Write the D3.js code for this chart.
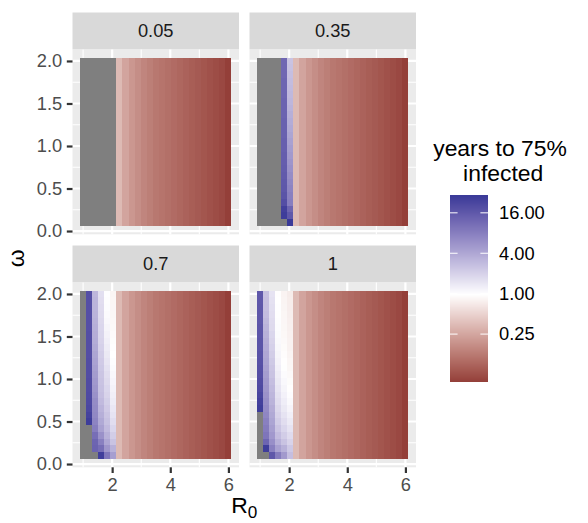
<!DOCTYPE html>
<html>
<head>
<meta charset="utf-8">
<script src="https://cdn.jsdelivr.net/npm/d3@7"></script>
<style>
  body { margin: 0; background: #ffffff; }
  svg { display: block; font-family: "Liberation Sans", Arial, Helvetica, sans-serif; }
</style>
</head>
<body>
<svg id="chart" width="588" height="523"></svg>
<script>
// ---- data ---------------------------------------------------------------
const _ = null; // grey cells: threshold never reached

// basic reproduction number (x) and omega (y) grid
const r0Values = [1, 1.208, 1.417, 1.625, 1.833, 2.042, 2.25, 2.458, 2.667, 2.875,
  3.083, 3.292, 3.5, 3.708, 3.917, 4.125, 4.333, 4.542, 4.75, 4.958,
  5.167, 5.375, 5.583, 5.792, 6];
const omegaValues = [0.1, 0.179, 0.258, 0.338, 0.417, 0.496, 0.575, 0.654, 0.733, 0.812,
  0.892, 0.971, 1.05, 1.129, 1.208, 1.288, 1.367, 1.446, 1.525, 1.604,
  1.683, 1.762, 1.842, 1.921, 2];

const panelLabels = ["0.05", "0.35", "0.7", "1"];

// years to 75% infected for R0 >= 2.25 (identical for every omega and panel)
const fastYears = [0.35, 0.25, 0.205, 0.177, 0.154, 0.139, 0.125, 0.117, 0.109, 0.102,
  0.095, 0.088, 0.082, 0.077, 0.072, 0.067, 0.0625, 0.058, 0.05];

// years to 75% infected for the six lowest R0 values; each inner array runs
// from omega = 0.1 (first) to omega = 2 (last)
const early005 = [
  [_,_,_,_,_,_,_,_,_,_,_,_,_,_,_,_,_,_,_,_,_,_,_,_,_],
  [_,_,_,_,_,_,_,_,_,_,_,_,_,_,_,_,_,_,_,_,_,_,_,_,_],
  [_,_,_,_,_,_,_,_,_,_,_,_,_,_,_,_,_,_,_,_,_,_,_,_,_],
  [_,_,_,_,_,_,_,_,_,_,_,_,_,_,_,_,_,_,_,_,_,_,_,_,_],
  [_,_,_,_,_,_,_,_,_,_,_,_,_,_,_,_,_,_,_,_,_,_,_,_,_],
  [_,_,_,_,_,_,_,_,_,_,_,_,_,_,_,_,_,_,_,_,_,_,_,_,_]
];
const early035 = [
  [_,_,_,_,_,_,_,_,_,_,_,_,_,_,_,_,_,_,_,_,_,_,_,_,_],
  [_,_,_,_,_,_,_,_,_,_,_,_,_,_,_,_,_,_,_,_,_,_,_,_,_],
  [_,_,_,_,_,_,_,_,_,_,_,_,_,_,_,_,_,_,_,_,_,_,_,_,_],
  [_,_,_,_,_,_,_,_,_,_,_,_,_,_,_,_,_,_,_,_,_,_,_,_,_],
  [_, 28, 26, 20, 18, 17, 16.5, 16, 15.5, 15, 15, 14.5, 14.5, 14, 14, 14, 13.5, 13.5, 13.5, 13, 13, 13, 12.5, 12.5, 12.5],
  [29.5, 16.5, 13, 8.4, 8, 7.5, 7, 6.5, 6, 5.6, 5.2, 4.9, 4.6, 4.3, 4.0, 3.8, 3.6, 3.4, 3.2, 3.1, 3.0, 2.9, 2.8, 2.7, 2.6]
];
const early07 = [
  [_,_,_,_,_,_,_,_,_,_,_,_,_,_,_,_,_,_,_,_,_,_,_,_,_],
  [_,_,_,_,_, 28, 25, 23, 22, 21.5, 21, 21, 20.5, 20.5, 20.5, 20, 20, 20, 20, 19.5, 19.5, 19.5, 19.5, 19.5, 19.5],
  [_, 13.5, 13, 11, 8.5, 7.5, 7, 6.8, 6.5, 6, 5.6, 5.3, 5.0, 4.7, 4.5, 4.3, 4.0, 3.8, 3.7, 3.6, 3.5, 3.4, 3.3, 3.3, 3.2],
  [27, 11, 8, 6, 4.6, 4, 3.6, 3.3, 3, 2.8, 2.7, 2.6, 2.5, 2.4, 2.3, 2.2, 2.1, 2.0, 1.95, 1.9, 1.85, 1.8, 1.75, 1.7, 1.65],
  [9.5, 5.5, 4.2, 3.5, 3.0, 2.7, 2.5, 2.3, 2.15, 2.0, 1.9, 1.8, 1.7, 1.6, 1.5, 1.42, 1.35, 1.28, 1.22, 1.17, 1.12, 1.08, 1.05, 1.03, 1.01],
  [4.8, 3.5, 2.6, 2.2, 1.9, 1.7, 1.55, 1.45, 1.35, 1.28, 1.22, 1.16, 1.11, 1.07, 1.03, 1.0, 0.97, 0.95, 0.93, 0.91, 0.9, 0.89, 0.88, 0.87, 0.86]
];
const early1 = [
  [_,_,_,_,_,_,_, 28, 26, 24, 22, 21, 20, 19.5, 19, 18.5, 18, 18, 17.5, 17.5, 17, 17, 17, 16.5, 16.5],
  [_, 28, 13, 9.8, 8.8, 8, 7.3, 6.8, 6.3, 5.9, 5.5, 5.2, 4.9, 4.6, 4.3, 4.1, 3.9, 3.7, 3.5, 3.3, 3.1, 2.9, 2.8, 2.75, 2.7],
  [17, 8, 6.2, 5.3, 4.7, 4.3, 4.0, 3.7, 3.4, 3.2, 3.0, 2.8, 2.6, 2.5, 2.35, 2.2, 2.1, 2.0, 1.9, 1.8, 1.75, 1.7, 1.65, 1.6, 1.55],
  [8.5, 4.6, 3.5, 2.9, 2.5, 2.2, 2.0, 1.85, 1.7, 1.6, 1.5, 1.42, 1.35, 1.28, 1.22, 1.17, 1.13, 1.1, 1.07, 1.05, 1.03, 1.02, 1.01, 1.0, 0.99],
  [5.2, 3.5, 2.6, 2.2, 1.9, 1.7, 1.55, 1.42, 1.32, 1.24, 1.17, 1.11, 1.06, 1.02, 0.99, 0.96, 0.94, 0.92, 0.9, 0.89, 0.88, 0.87, 0.86, 0.85, 0.84],
  [2.8, 2.4, 2.0, 1.75, 1.55, 1.4, 1.28, 1.18, 1.1, 1.04, 0.99, 0.95, 0.92, 0.89, 0.87, 0.85, 0.83, 0.82, 0.81, 0.8, 0.79, 0.78, 0.77, 0.76, 0.75]
];
const earlyByPanel = [early005, early035, early07, early1];

const xTicks = [2, 4, 6];
const yTicks = [0, 0.5, 1, 1.5, 2];
const legendBreaks = [0.25, 1, 4, 16];
const legendLabels = ["0.25", "1.00", "4.00", "16.00"];

// ---- layout ---------------------------------------------------------------
const svg = d3.select("#chart");
svg.append("rect").attr("width", 588).attr("height", 523).attr("fill", "#ffffff");

const colX = [72.5, 249.5];
const rowY = [49.2, 282.2];
const panelW = 166.5, panelH = 185.1, stripH = 36.7;
const tickLen = 5.7, tickPad = 4.6;
const fsTick = 18.3, fsTitle = 22.9;

// cell edges: midpoints between neighbouring grid values, half a step at the ends
function edges(vals) {
  const n = vals.length;
  return vals.map((v, i) => [
    i === 0 ? v - (vals[1] - vals[0]) / 2 : (vals[i - 1] + v) / 2,
    i === n - 1 ? v + (vals[n - 1] - vals[n - 2]) / 2 : (v + vals[i + 1]) / 2
  ]);
}
const xEdges = edges(r0Values), yEdges = edges(omegaValues);
const xLo = xEdges[0][0], xHi = xEdges[xEdges.length - 1][1];
const yLo = yEdges[0][0], yHi = yEdges[yEdges.length - 1][1];
const xPad = (xHi - xLo) * 0.05, yPad = (yHi - yLo) * 0.05;

// ---- cells ---------------------------------------------------------------
const cells = [];
panelLabels.forEach((lab, p) => {
  r0Values.forEach((r0, i) => {
    omegaValues.forEach((w, j) => {
      const v = i < 6 ? earlyByPanel[p][i][j] : fastYears[i - 6];
      cells.push({ panel: p, i, j, r0, omega: w, value: v });
    });
  });
});

// ---- colour: diverging around 1 year on a log scale ----------------------
const logVals = cells.filter(d => d.value != null).map(d => Math.log2(d.value));
const logMin = d3.min(logVals), logMax = d3.max(logVals);
const halfSpan = Math.max(Math.abs(logMin), Math.abs(logMax));
const ramp = d3.scaleLinear().domain([0, 0.5, 1])
  .range(["#832424", "#ffffff", "#3A3A98"]).interpolate(d3.interpolateLab);
const fillFor = v => v == null ? "#7f7f7f" : ramp(0.5 + Math.log2(v) / (2 * halfSpan));

// ---- panels ---------------------------------------------------------------
panelLabels.forEach((lab, p) => {
  const col = p % 2, row = Math.floor(p / 2);
  const x0 = colX[col], y0 = rowY[row];
  const x = d3.scaleLinear().domain([xLo - xPad, xHi + xPad]).range([x0, x0 + panelW]);
  const y = d3.scaleLinear().domain([yLo - yPad, yHi + yPad]).range([y0 + panelH, y0]);

  const g = svg.append("g");
  g.append("rect").attr("x", x0).attr("y", y0).attr("width", panelW).attr("height", panelH)
    .attr("fill", "#ebebeb");

  // minor grid halfway between majors
  const xMinor = [1, 3, 5], yMinor = [0.25, 0.75, 1.25, 1.75];
  g.selectAll(".xminor").data(xMinor).join("line")
    .attr("x1", d => x(d)).attr("x2", d => x(d)).attr("y1", y0).attr("y2", y0 + panelH)
    .attr("stroke", "#ffffff").attr("stroke-width", 1.1);
  g.selectAll(".yminor").data(yMinor).join("line")
    .attr("y1", d => y(d)).attr("y2", d => y(d)).attr("x1", x0).attr("x2", x0 + panelW)
    .attr("stroke", "#ffffff").attr("stroke-width", 1.1);
  g.selectAll(".xmajor").data(xTicks).join("line")
    .attr("x1", d => x(d)).attr("x2", d => x(d)).attr("y1", y0).attr("y2", y0 + panelH)
    .attr("stroke", "#ffffff").attr("stroke-width", 2.2);
  g.selectAll(".ymajor").data(yTicks).join("line")
    .attr("y1", d => y(d)).attr("y2", d => y(d)).attr("x1", x0).attr("x2", x0 + panelW)
    .attr("stroke", "#ffffff").attr("stroke-width", 2.2);

  // tiles snapped to whole pixels so neighbours share edges
  const L = d => Math.round(x(xEdges[d.i][0]));
  const R = d => Math.round(x(xEdges[d.i][1]));
  const T = d => Math.round(y(yEdges[d.j][1]));
  const B = d => Math.round(y(yEdges[d.j][0]));
  g.selectAll(".tile").data(cells.filter(c => c.panel === p)).join("rect")
    .attr("x", L).attr("width", d => R(d) - L(d))
    .attr("y", T).attr("height", d => B(d) - T(d))
    .attr("fill", d => fillFor(d.value))
    .attr("shape-rendering", "crispEdges");

  // strip
  g.append("rect").attr("x", x0).attr("y", y0 - stripH).attr("width", panelW).attr("height", stripH)
    .attr("fill", "#d9d9d9");
  g.append("text").attr("x", x0 + panelW / 2).attr("y", y0 - stripH / 2).attr("dy", "0.35em")
    .attr("text-anchor", "middle").attr("font-size", fsTick).attr("fill", "#1a1a1a").text(lab);

  // axes on outer panels only
  if (col === 0) {
    const ax = g.append("g").attr("transform", `translate(${x0},0)`)
      .call(d3.axisLeft(y).tickValues(yTicks).tickFormat(d3.format(".1f"))
        .tickSize(tickLen).tickPadding(tickPad));
    styleAxis(ax);
  }
  if (row === 1) {
    const ax = g.append("g").attr("transform", `translate(0,${y0 + panelH})`)
      .call(d3.axisBottom(x).tickValues(xTicks).tickFormat(d3.format("d"))
        .tickSize(tickLen).tickPadding(tickPad));
    styleAxis(ax);
  }
});

function styleAxis(ax) {
  ax.select(".domain").remove();
  ax.selectAll(".tick line").attr("stroke", "#333333").attr("stroke-width", 2.2);
  ax.selectAll(".tick text").attr("fill", "#4d4d4d").attr("font-size", fsTick)
    .attr("font-family", "Liberation Sans, Arial, sans-serif");
}

// ---- axis titles ----------------------------------------------------------
const xMid = (colX[0] + colX[1] + panelW) / 2;
const xt = svg.append("text").attr("x", xMid).attr("y", 513).attr("text-anchor", "middle")
  .attr("font-size", fsTitle).attr("fill", "#000000");
xt.append("tspan").text("R");
xt.append("tspan").attr("font-size", fsTitle * 0.75).attr("dy", 5).text("0");

const yMid = (rowY[0] + rowY[1] + panelH) / 2;
svg.append("text").attr("transform", `translate(24,${yMid}) rotate(-90)`)
  .attr("text-anchor", "middle").attr("font-size", fsTitle).attr("fill", "#000000").text("ω");

// ---- legend ---------------------------------------------------------------
const lg = svg.append("g");
const titleMid = 500;
lg.append("text").attr("x", titleMid).attr("y", 156).attr("text-anchor", "middle")
  .attr("font-size", fsTitle).attr("fill", "#000000").text("years to 75%");
lg.append("text").attr("x", titleMid).attr("y", 181).attr("text-anchor", "middle")
  .attr("font-size", fsTitle).attr("fill", "#000000")
  .attr("xml:space", "preserve").style("white-space", "pre").text(" infected");

const barX = 450, barW = 38, barTop = 195, barBot = 381;
const barScale = d3.scaleLinear().domain([logMin, logMax]).range([barBot, barTop]);
const nBins = 186;
const binVals = d3.range(nBins).map(k => logMin + (k + 0.5) * (logMax - logMin) / nBins);
lg.selectAll(".bin").data(binVals).join("rect")
  .attr("x", barX).attr("width", barW)
  .attr("y", d => barScale(d) - (barBot - barTop) / nBins / 2 - 0.5)
  .attr("height", (barBot - barTop) / nBins + 1)
  .attr("fill", d => ramp(0.5 + d / (2 * halfSpan)))
  .attr("shape-rendering", "crispEdges");

legendBreaks.forEach((b, k) => {
  const yy = barScale(Math.log2(b));
  lg.append("line").attr("x1", barX).attr("x2", barX + barW / 5).attr("y1", yy).attr("y2", yy)
    .attr("stroke", "#ffffff").attr("stroke-width", 1);
  lg.append("line").attr("x1", barX + barW - barW / 5).attr("x2", barX + barW).attr("y1", yy).attr("y2", yy)
    .attr("stroke", "#ffffff").attr("stroke-width", 1);
  lg.append("text").attr("x", barX + barW + 11).attr("y", yy).attr("dy", "0.35em")
    .attr("font-size", fsTick).attr("fill", "#000000").text(legendLabels[k]);
});
</script>
</body>
</html>
